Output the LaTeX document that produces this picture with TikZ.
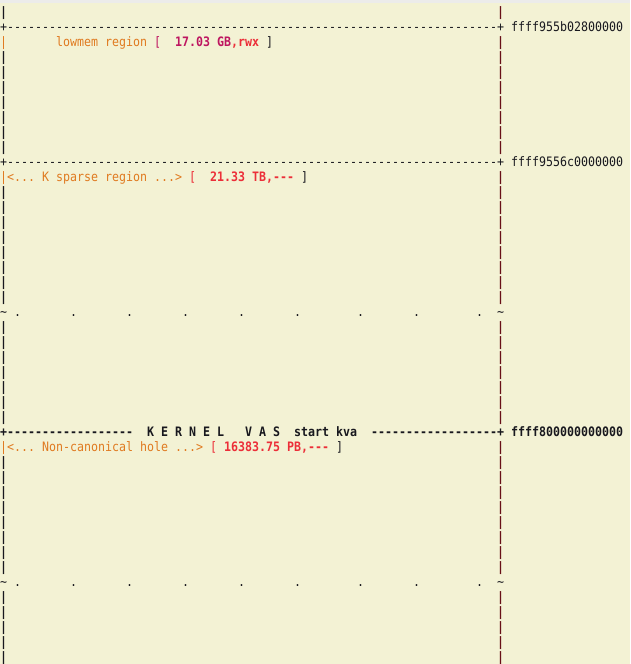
\documentclass[tikz,border=0pt]{standalone}
\usepackage{fontspec}
\setmonofont[FakeStretch=0.8945]{DejaVu Sans Mono}
\definecolor{paper}{RGB}{243,242,212}
\definecolor{band}{RGB}{236,236,234}
\definecolor{regionorange}{RGB}{224,122,32}
\definecolor{sizemagenta}{RGB}{190,22,96}
\definecolor{sizered}{RGB}{236,46,56}
\definecolor{railred}{RGB}{104,16,24}
\definecolor{ink}{RGB}{24,24,30}
\newcommand\dashrun[1]{\foreach\d in {1,...,#1}{-}}
\tikzset{
  glyph/.style={anchor=base west, inner sep=0pt, outer sep=0pt, text=ink,
    font=\ttfamily\fontsize{13}{15}\selectfont},
  boldglyph/.style={glyph, font=\ttfamily\bfseries\fontsize{13}{15}\selectfont},
  rail/.style={boldglyph, text=railred},
  region/.style={glyph, text=regionorange}
}
\begin{document}
\begin{tikzpicture}[x=7pt, y=-15pt]
      \useasboundingbox (0,-16/15) rectangle (90,648/15);
      \fill[paper] (0,-16/15) rectangle (90,648/15);
      \fill[band] (0,-16/15) rectangle (90,-13/15);
      \foreach \r in {0,3,4,...,9,12,13,...,19,21,22,...,27,30,31,...,37,39,40,...,43}
        \node[boldglyph] (l\r) at (0,\r) {|};
      \foreach \r in {0,2,3,...,9,11,12,...,19,21,22,...,27,29,30,...,37,39,40,...,43}
        \node[rail] (r\r) at (71,\r) {|};
      \node[glyph] (top) at (0,1) {+};
      \node[glyph] (topline) at (1,1) {\dashrun{70}};
      \node[glyph] (topend) at (71,1) {+};
      \node[glyph] (topaddr) at (73,1) {ffff955b02800000};
      \node[region] (l2) at (0,2) {|};
      \node[region] (lowmem) at (8,2) {lowmem region};
      \node[glyph] (lowmemsize) at (22,2)
        {\color{sizemagenta}[\ \ \textbf{17.03 GB}\color{sizered}\textbf{,rwx}\color{ink}\ ]};
      \node[glyph] (mid) at (0,10) {+};
      \node[glyph] (midline) at (1,10) {\dashrun{70}};
      \node[glyph] (midend) at (71,10) {+};
      \node[glyph] (midaddr) at (73,10) {ffff9556c0000000};
      \node[region] (sparse) at (0,11) {|<... K sparse region ...>};
      \node[glyph] (sparsesize) at (27,11)
        {\color{sizered}[\ \ \textbf{21.33 TB,---}\color{ink}\ ]};
      \foreach \r in {20,38} {
        \node[glyph] (gapl\r) at (0,\r) {\textasciitilde};
        \node[glyph] (gapr\r) at (71,\r) {\textasciitilde};
        \foreach \c in {2,10,18,26,34,42,51,59,68}
          \node[glyph] (dot\r-\c) at (\c,\r) {.};
      }
      \node[boldglyph] (kva) at (0,28) {+\dashrun{18}};
      \node[boldglyph] (kvas) at (21,28) {K E R N E L\ \ \ V A S\ \ start kva};
      \node[boldglyph] (kvaline) at (53,28) {\dashrun{18}+};
      \node[boldglyph] (kvaaddr) at (73,28) {ffff800000000000};
      \node[region] (hole) at (0,29) {|<... Non-canonical hole ...>};
      \node[glyph] (holesize) at (30,29)
        {\color{sizered}[\ \textbf{16383.75 PB,---}\color{ink}\ ]};
\end{tikzpicture}
\end{document}
